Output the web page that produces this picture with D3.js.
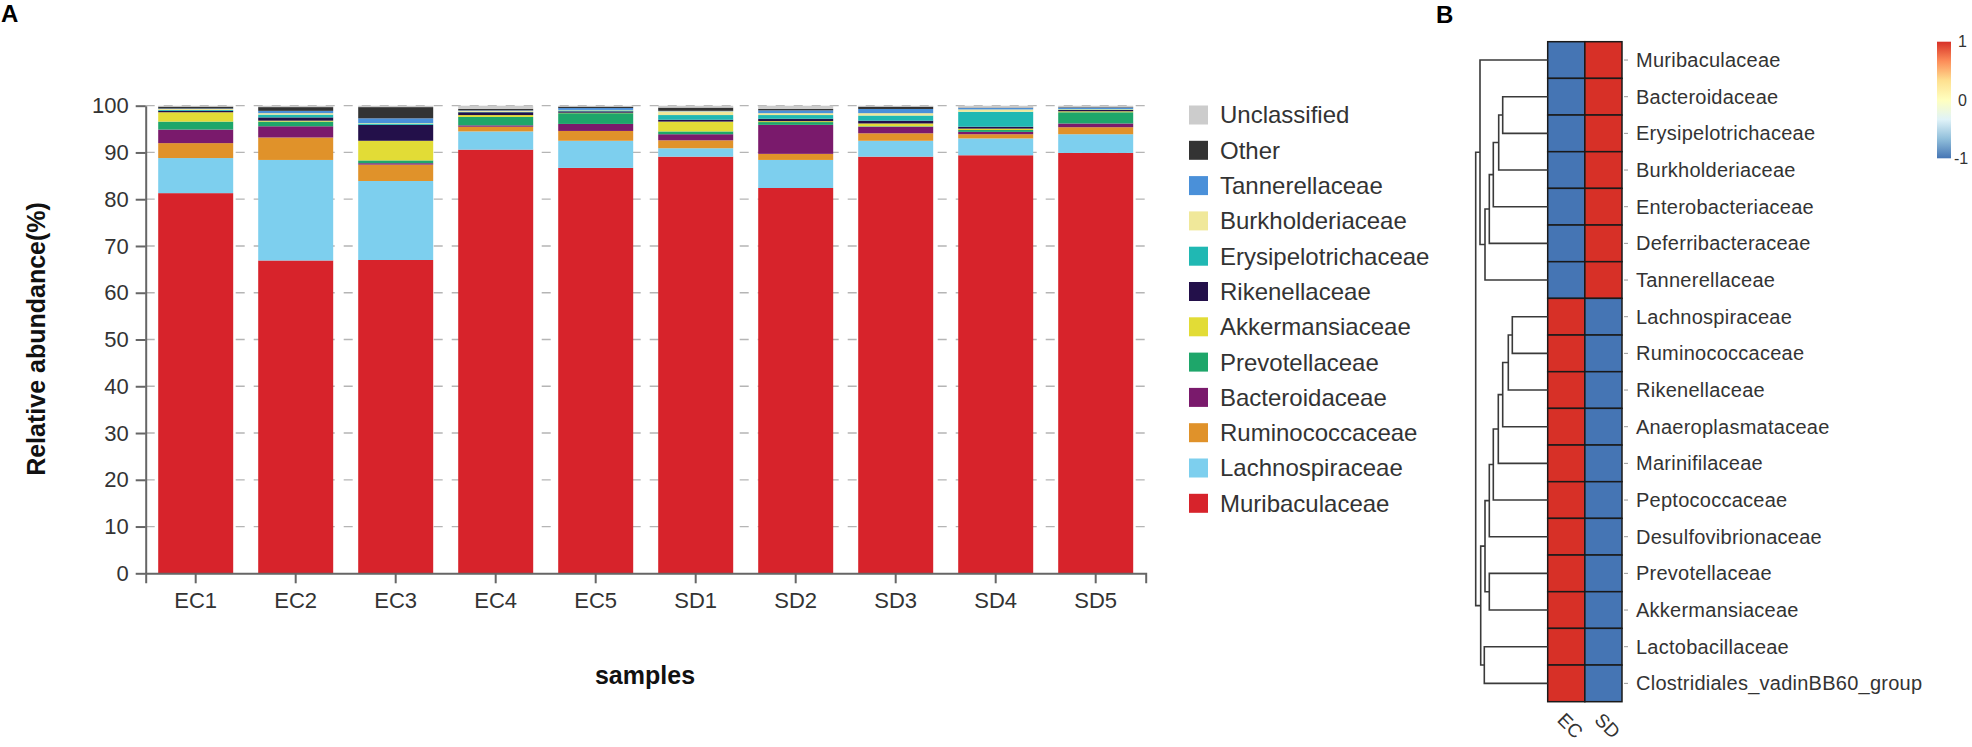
<!DOCTYPE html>
<html>
<head>
<meta charset="utf-8">
<script src="https://d3js.org/d3.v7.min.js"></script>
<style>
body { margin: 0; background: #fff; }
text { font-family: "Liberation Sans", Arial, sans-serif; }
</style>
</head>
<body>
<svg id="chart" width="1972" height="747"></svg>
<script>
// ---- panel A data (relative abundance, %) ----
const samples = ["EC1", "EC2", "EC3", "EC4", "EC5", "SD1", "SD2", "SD3", "SD4", "SD5"];
const families = ["Muribaculaceae", "Lachnospiraceae", "Ruminococcaceae", "Bacteroidaceae",
  "Prevotellaceae", "Akkermansiaceae", "Rikenellaceae", "Erysipelotrichaceae",
  "Burkholderiaceae", "Tannerellaceae", "Other", "Unclassified"];
const familyColors = ["#d7232b", "#7dcfee", "#e0922a", "#7a1a6c", "#1ea66a", "#e2dc36",
  "#23104a", "#20b8b3", "#f0e89a", "#4a90d9", "#333333", "#cccccc"];

const muribaculaceae      = [81.3, 66.9, 67.0, 90.6, 86.7, 89.1, 82.4, 89.1, 89.4, 89.9];
const lachnospiraceae     = [7.5, 21.5, 16.9, 3.9, 5.8, 1.8, 6.0, 3.4, 3.6, 4.0];
const ruminococcaceae     = [3.2, 4.8, 3.5, 1.0, 2.1, 1.7, 1.3, 1.6, 0.9, 1.5];
const bacteroidaceae      = [2.9, 2.4, 0.3, 0.3, 1.5, 1.3, 6.2, 1.4, 0.5, 0.8];
const prevotellaceae      = [1.7, 1.0, 0.6, 1.8, 2.3, 0.6, 0.6, 0.1, 0.4, 2.4];
const akkermansiaceae     = [2.0, 0.2, 4.2, 0.4, 0.1, 2.1, 0.2, 0.6, 0.3, 0.2];
const rikenellaceae       = [0.3, 0.7, 3.4, 0.6, 0.3, 0.4, 0.5, 0.6, 0.4, 0.3];
const erysipelotrichaceae = [0.2, 0.6, 0.3, 0.1, 0.2, 1.0, 0.8, 1.1, 3.2, 0.1];
const burkholderiaceae    = [0.2, 0.3, 0.1, 0.2, 0.1, 0.8, 0.4, 0.5, 0.5, 0.1];
const tannerellaceae      = [0.1, 0.5, 1.0, 0.1, 0.4, 0.1, 0.6, 0.9, 0.3, 0.3];
const other               = [0.4, 0.8, 2.4, 0.3, 0.3, 0.7, 0.3, 0.5, 0.1, 0.1];
const unclassified        = [0.2, 0.3, 0.3, 0.7, 0.2, 0.4, 0.7, 0.2, 0.4, 0.3];
const yTicks = [0, 10, 20, 30, 40, 50, 60, 70, 80, 90, 100];

// ---- panel B data ----
const heatCols = ["EC", "SD"];
const heatRows = ["Muribaculaceae", "Bacteroidaceae", "Erysipelotrichaceae", "Burkholderiaceae",
  "Enterobacteriaceae", "Deferribacteraceae", "Tannerellaceae", "Lachnospiraceae",
  "Ruminococcaceae", "Rikenellaceae", "Anaeroplasmataceae", "Marinifilaceae",
  "Peptococcaceae", "Desulfovibrionaceae", "Prevotellaceae", "Akkermansiaceae",
  "Lactobacillaceae", "Clostridiales_vadinBB60_group"];
const ecValues = [-1, -1, -1, -1, -1, -1, -1, 1, 1, 1, 1, 1, 1, 1, 1, 1, 1, 1];
const sdValues = [1, 1, 1, 1, 1, 1, 1, -1, -1, -1, -1, -1, -1, -1, -1, -1, -1, -1];
// row clustering: [child a, child b, height]; ids >= 18 are earlier merges
const merges = [
  [1, 2, 45.0], [18, 3, 49.0], [19, 4, 54.4], [20, 5, 58.4], [21, 6, 62.7], [0, 22, 67.7],
  [7, 8, 35.4], [24, 9, 39.4], [25, 10, 45.0], [26, 11, 49.4], [27, 12, 54.4], [28, 13, 58.4],
  [14, 15, 58.4], [29, 30, 62.7], [16, 17, 63.4], [31, 32, 67.0], [23, 33, 72.0]
];
const palette = ["#4575b4", "#91bfdb", "#e0f3f8", "#ffffbf", "#fee090", "#fc8d59", "#d73027"];
const legendTicks = [1, 0, -1];

const svg = d3.select("#chart");

// ================= Panel A =================
const series = [muribaculaceae, lachnospiraceae, ruminococcaceae, bacteroidaceae, prevotellaceae,
  akkermansiaceae, rikenellaceae, erysipelotrichaceae, burkholderiaceae, tannerellaceae, other, unclassified];
const table = samples.map((s, i) => {
  const row = { sample: s };
  families.forEach((f, k) => row[f] = series[k][i]);
  return row;
});
const stacked = d3.stack().keys(families)(table);

const x = d3.scaleBand().domain(samples).range([145.7, 1145.7]).paddingInner(0.25).paddingOuter(0.125);
const y = d3.scaleLinear().domain([0, 100]).range([573.3, 105.7]);
const color = d3.scaleOrdinal().domain(families).range(familyColors);

// dashed grid
svg.append("g").selectAll("line").data(yTicks.slice(1)).join("line")
  .attr("x1", 145.7).attr("x2", 1145.7)
  .attr("y1", d => y(d)).attr("y2", d => y(d))
  .attr("stroke", "#b5b5b5").attr("stroke-width", 1.3)
  .attr("stroke-dasharray", "9,9");

svg.append("g").selectAll("g").data(stacked).join("g")
  .attr("fill", d => color(d.key))
  .selectAll("rect").data(d => d).join("rect")
  .attr("x", d => x(d.data.sample))
  .attr("width", x.bandwidth())
  .attr("y", d => y(d[1]))
  .attr("height", d => y(d[0]) - y(d[1]));

const yAxis = svg.append("g").attr("transform", "translate(145.7,0)")
  .call(d3.axisLeft(y).tickValues(yTicks).tickSize(10).tickSizeOuter(0).tickPadding(7));
const xAxis = svg.append("g").attr("transform", "translate(0,573.3)")
  .call(d3.axisBottom(x).tickSize(10).tickSizeOuter(10).tickPadding(9));
[yAxis, xAxis].forEach(a => {
  a.selectAll("path, line").attr("stroke", "#666").attr("stroke-width", 2);
  a.selectAll("text").attr("fill", "#333").style("font-size", "22px");
});

svg.append("text")
  .attr("transform", "translate(45,339) rotate(-90)")
  .attr("text-anchor", "middle")
  .style("font-size", "25px").style("font-weight", "bold").attr("fill", "#111")
  .text("Relative abundance(%)");
svg.append("text")
  .attr("x", 645).attr("y", 684).attr("text-anchor", "middle")
  .style("font-size", "25px").style("font-weight", "bold").attr("fill", "#111")
  .text("samples");

// legend
const legend = svg.append("g").selectAll("g").data(families.slice().reverse()).join("g")
  .attr("transform", (d, i) => `translate(1189,${115 + i * 35.3})`);
legend.append("rect").attr("x", 0).attr("y", -9.5).attr("width", 19).attr("height", 19)
  .attr("fill", d => color(d));
legend.append("text").attr("x", 31).attr("dy", "0.35em")
  .style("font-size", "24px").attr("fill", "#333").text(d => d);

svg.append("text").attr("x", 1).attr("y", 22)
  .style("font-size", "24px").style("font-weight", "bold").text("A");

// ================= Panel B =================
svg.append("text").attr("x", 1436).attr("y", 23)
  .style("font-size", "24px").style("font-weight", "bold").text("B");

const hx = d3.scaleBand().domain(heatCols).range([1547.7, 1622]);
const hy = d3.scaleBand().domain(heatRows).range([41.7, 701.7]);
const heatColor = d3.scaleLinear().domain(d3.range(7).map(i => -1 + i / 3)).range(palette);

const cells = [];
heatRows.forEach((r, i) => {
  cells.push({ row: r, col: "EC", v: ecValues[i] });
  cells.push({ row: r, col: "SD", v: sdValues[i] });
});
svg.append("g").selectAll("rect").data(cells).join("rect")
  .attr("x", d => hx(d.col)).attr("y", d => hy(d.row))
  .attr("width", hx.bandwidth()).attr("height", hy.bandwidth())
  .attr("fill", d => heatColor(d.v))
  .attr("stroke", "#1a1a1a").attr("stroke-width", 1.5);

// row labels with small ticks
const rowLab = svg.append("g").selectAll("g").data(heatRows).join("g")
  .attr("transform", d => `translate(1622,${hy(d) + hy.bandwidth() / 2})`);
rowLab.append("line").attr("x1", 2).attr("x2", 6).attr("stroke", "#999");
rowLab.append("text").attr("x", 14).attr("dy", "0.35em")
  .style("font-size", "20px").style("letter-spacing", "0.25px")
  .attr("fill", "#333").text(d => d);

// column labels
svg.append("g").selectAll("text").data(heatCols).join("text")
  .attr("transform", d => `translate(${hx(d) + hx.bandwidth() / 2 - 10},${721}) rotate(45)`)
  .style("font-size", "19px").attr("fill", "#333").text(d => d);

// dendrogram
const hScale = d3.scaleLinear().domain([0, 72]).range([1547.7, 1475.7]);
const nodes = heatRows.map(r => ({ x: hScale(0), y: hy(r) + hy.bandwidth() / 2 }));
const dendro = svg.append("g").attr("fill", "none").attr("stroke", "#3a3a3a").attr("stroke-width", 1.6);
merges.forEach(([a, b, h]) => {
  const na = nodes[a], nb = nodes[b], xh = hScale(h);
  dendro.append("path")
    .attr("d", `M${na.x},${na.y}H${xh}V${nb.y}H${nb.x}`);
  nodes.push({ x: xh, y: (na.y + nb.y) / 2 });
});

// colour key
const defs = svg.append("defs");
const grad = defs.append("linearGradient").attr("id", "key")
  .attr("x1", 0).attr("y1", 1).attr("x2", 0).attr("y2", 0);
palette.forEach((c, i) => grad.append("stop").attr("offset", i / (palette.length - 1)).attr("stop-color", c));
const ky = d3.scaleLinear().domain([-1, 1]).range([158.3, 41.7]);
svg.append("rect").attr("x", 1937).attr("y", ky(1)).attr("width", 14)
  .attr("height", ky(-1) - ky(1)).attr("fill", "url(#key)");
svg.append("g").selectAll("text").data(legendTicks).join("text")
  .attr("x", d => d < 0 ? 1954 : 1958).attr("y", d => ky(d)).attr("dy", "0.35em")
  .style("font-size", "16px").attr("fill", "#333")
  .text(d => d);
</script>
</body>
</html>
